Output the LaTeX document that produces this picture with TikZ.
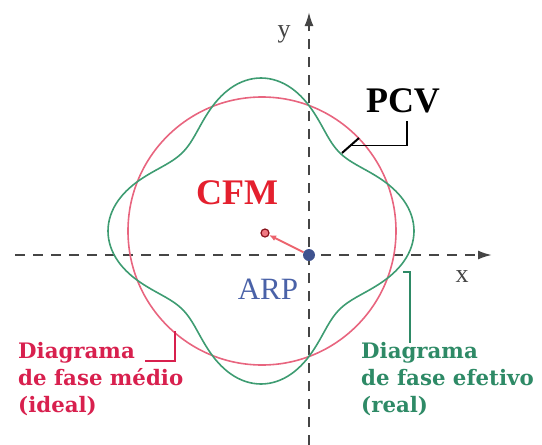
\documentclass[tikz,border=0pt]{standalone}
\usepackage{fontspec}
\setmainfont{Liberation Serif}
\newfontfamily\descfont{DejaVu Serif}
\usetikzlibrary{arrows.meta}
\definecolor{idealred}{HTML}{E8657F}
\definecolor{realgreen}{HTML}{3E9C72}
\definecolor{labred}{HTML}{D8204E}
\definecolor{labgreen}{HTML}{2E8A66}
\definecolor{cfmred}{HTML}{E4202E}
\definecolor{arpblue}{HTML}{4A62A8}
\definecolor{axisgray}{HTML}{454545}
\tikzset{
  axis/.style={draw=axisgray, line width=2pt, dash pattern=on 10pt off 8pt},
  leader/.style={line width=1.3pt},
  biglabel/.style={font=\bfseries\fontsize{36}{40}\selectfont},
  desc/.style={font=\descfont\bfseries\fontsize{21.3}{27}\selectfont, align=left, anchor=north west, inner sep=0pt},
  axlabel/.style={text=axisgray, font=\fontsize{26}{28}\selectfont},
}
\begin{document}
\begin{tikzpicture}[x=1pt,y=-1pt]
\useasboundingbox (0,0) rectangle (542,445);
% axes
\coordinate (xs) at (15,255);
\coordinate (xe) at (492,255);
\coordinate (ys) at (309,445);
\coordinate (ye) at (309,12);
\draw[axis] (xs) -- (478,255);
\draw[axis] (ys) -- (309,28);
\draw[draw=axisgray, line width=2pt, -{Latex[length=14pt,width=9pt]}] (478,255) -- (xe);
\draw[draw=axisgray, line width=2pt, -{Latex[length=14pt,width=9pt]}] (309,28) -- (ye);
\node[axlabel] (ylab) at (284,34) {y};
\node[axlabel] (xlab) at (462,277) {x};
% ideal circle
\coordinate (c) at (262,231);
\draw[idealred, line width=1.6pt] (c) circle[radius=134];
% real diagram
\draw[realgreen, line width=1.6pt] plot[domain=0:360, samples=241, smooth cycle]
  ({261+(132+21*cos(4*\x))*cos(\x)}, {231+(132+21*cos(4*\x))*sin(\x)});
% CFM and ARP
\node[circle, draw=cfmred!60!black, fill=cfmred!60, line width=1.2pt, minimum size=8pt, inner sep=0pt] (cfm) at (265,233) {};
\node[circle, fill=arpblue!85!black, minimum size=12pt, inner sep=0pt] (arp) at (309,255) {};
\draw[cfmred!70, line width=2pt, -{Latex[length=7pt,width=6pt]}] (arp) -- (cfm);
\node[biglabel, text=cfmred] (cfmlab) at (237,193) {CFM};
\node[text=arpblue, font=\fontsize{31}{34}\selectfont] (arplab) at (268,289) {ARP};
% PCV
\node[biglabel, text=black] (pcv) at (403,101) {PCV};
\coordinate (t1) at (342,153);
\coordinate (t2) at (359,138);
\coordinate (tm) at (350.5,145.5);
\draw[black, line width=2pt] (t1) -- (t2);
\draw[black, leader] (tm) -- (407,145.5) -- (407,121);
% labels
\node[desc, text=labred] (ideal) at (18,342) {Diagrama\\de fase médio\\(ideal)};
\draw[labred, leader] (145,361) -- (175,361) -- (175,331);
\node[desc, text=labgreen] (real) at (361,342) {Diagrama\\de fase efetivo\\(real)};
\draw[labgreen, leader] (403,272) -- (410,272) -- (410,343);
\end{tikzpicture}
\end{document}
